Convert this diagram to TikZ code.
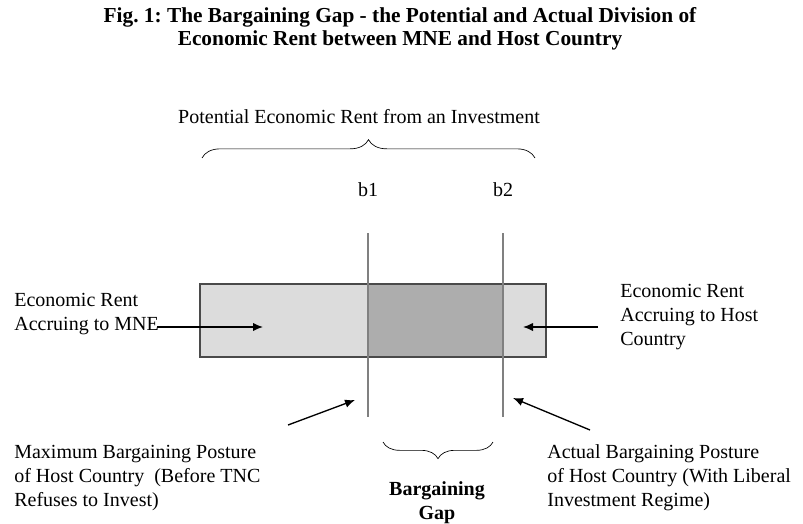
\documentclass[tikz,border=0pt]{standalone}
\usepackage{fontspec}
\setmainfont{Liberation Serif}
\usepackage{tikz}
\usetikzlibrary{arrows.meta,calc,decorations.pathreplacing}
\usepackage{xcolor}
\definecolor{RentLight}{HTML}{DCDCDC}
\definecolor{RentDark}{HTML}{ADADAD}
\definecolor{RentEdge}{HTML}{4A4A4A}
\definecolor{PostureLine}{HTML}{808080}
\frenchspacing

\begin{document}
\begin{tikzpicture}[x=0.6pt,y=-0.6pt,
    txt/.style={inner sep=0pt,align=left,font=\fontsize{12}{14.4}\selectfont},
    pointer/.style={thick,-{Latex[length=6pt,width=5pt]}}]
    \useasboundingbox (0,0) rectangle (803,523);

    \node[txt,align=center,font=\fontsize{12.8}{14}\selectfont\bfseries] (title) at (400,29)
        {Fig. 1: The Bargaining Gap - the Potential and Actual Division of\\
         Economic Rent between MNE and Host Country};
    \node[txt] (potential) at (359,117) {Potential Economic Rent from an Investment};
    \node[txt] (b1) at (368,190) {b1};
    \node[txt] (b2) at (503,190) {b2};

    \coordinate (A) at (200,284);
    \coordinate (B) at (546,357);
    \coordinate (P) at (368,284);
    \coordinate (Q) at (503,357);
    \fill[RentLight] (A) rectangle (B);
    \fill[RentDark] (P) rectangle (Q);
    \draw[RentEdge,thick] (A) rectangle (B);

    \coordinate (b1top) at (368,233);
    \coordinate (b1bot) at (368,417);
    \coordinate (b2top) at (503,233);
    \coordinate (b2bot) at (503,417);
    \draw[PostureLine,thick] (b1top) -- (b1bot);
    \draw[PostureLine,thick] (b2top) -- (b2bot);

    \coordinate (braceL) at (202,158);
    \coordinate (braceR) at (535,158);
    \draw[decorate,decoration={brace,amplitude=11pt}] (braceL) -- (braceR);
    \coordinate (gapL) at (383,442);
    \coordinate (gapR) at (493,442);
    \draw[decorate,decoration={brace,amplitude=10pt}] (gapR) -- (gapL);

    \node[txt] (mne) at (14,314) [anchor=west] {Economic Rent\\Accruing to MNE};
    \node[txt] (host) at (620,317) [anchor=west] {Economic Rent\\Accruing to Host\\Country};
    \node[txt] (maxpost) at (14,478) [anchor=west]
        {Maximum Bargaining Posture\\of Host Country\ \ (Before TNC\\Refuses to Invest)};
    \node[txt] (actpost) at (547,478) [anchor=west]
        {Actual Bargaining Posture\\of Host Country (With Liberal\\Investment Regime)};
    \node[txt,align=center,font=\fontsize{12}{14.4}\selectfont\bfseries] (gap) at (437,503)
        {Bargaining\\Gap};

    \coordinate (mneTail) at (157,327);
    \coordinate (mneTip) at (263,327);
    \coordinate (hostTail) at (598,327);
    \coordinate (hostTip) at (523,327);
    \coordinate (maxTail) at (288,425);
    \coordinate (maxTip) at (355,400);
    \coordinate (actTail) at (590,430);
    \coordinate (actTip) at (513,398);
    \draw[pointer] (mneTail) -- (mneTip);
    \draw[pointer] (hostTail) -- (hostTip);
    \draw[pointer] (maxTail) -- (maxTip);
    \draw[pointer] (actTail) -- (actTip);
\end{tikzpicture}
\end{document}
